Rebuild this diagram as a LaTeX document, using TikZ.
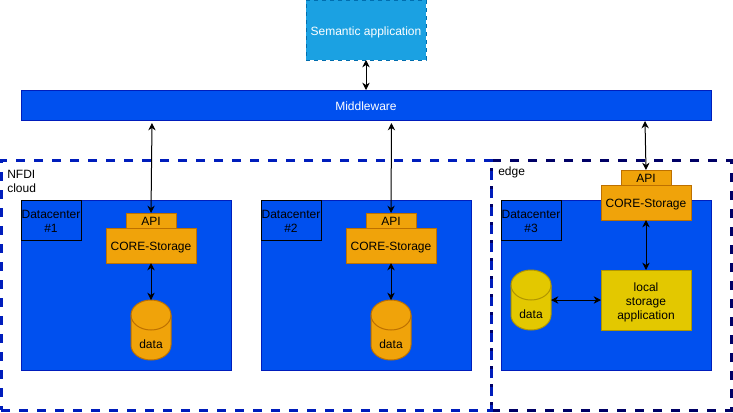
\documentclass[tikz,border=0pt]{standalone}
\usepackage{fontspec}
\setmainfont{Liberation Sans}
\usetikzlibrary{arrows,arrows.meta,shapes,positioning,calc}
\definecolor{dfblue}{HTML}{0050EF}
\definecolor{dfbluedark}{HTML}{001DBC}
\definecolor{dfsky}{HTML}{1BA1E2}
\definecolor{dfskydark}{HTML}{006EAF}
\definecolor{dforange}{HTML}{F0A30A}
\definecolor{dforangedark}{HTML}{BD7000}
\definecolor{dfyellow}{HTML}{E3C800}
\definecolor{dfyellowdark}{HTML}{B09500}
\definecolor{dfnavy}{HTML}{000066}
\tikzstyle{arrow} = [line width=0.75pt,{Stealth[length=5.5pt,width=5.5pt]}-{Stealth[length=5.5pt,width=5.5pt]},color=black]
\tikzstyle{oneline} = [text height=7.5pt, text depth=0pt]
\tikzstyle{twolines} = [text height=18pt, text depth=0pt]
\tikzstyle{threelines} = [text height=28.5pt, text depth=0pt]
\tikzstyle{zone} = [rectangle, draw=dfbluedark, line width=2.25pt, dash pattern=on 6.75pt off 6.75pt, minimum height=187.5pt, inner sep=0pt, outer sep=0pt]
\tikzstyle{datacenter} = [rectangle, draw=dfbluedark, fill=dfblue, line width=0.75pt, minimum width=157.5pt, minimum height=127.5pt, outer sep=0pt]
\tikzstyle{dclabel} = [rectangle, draw=black, line width=0.75pt, minimum width=45pt, minimum height=30pt, inner sep=0pt, outer sep=0pt, align=center, twolines]
\tikzstyle{corebox} = [rectangle, draw=dforangedark, fill=dforange, line width=0.75pt, minimum width=67.5pt, minimum height=26.25pt, inner sep=0pt, outer sep=0pt, oneline]
\tikzstyle{apibox} = [rectangle, draw=dforangedark, fill=dforange, line width=0.75pt, minimum width=37.5pt, minimum height=11.25pt, inner sep=0pt, outer sep=0pt, oneline]
\tikzstyle{database} = [rectangle, minimum width=30pt, minimum height=45pt, inner sep=0pt, outer sep=0pt, oneline, text=black]
\tikzstyle{dbshell} = [line width=0.75pt, draw=dforangedark, fill=dforange]
\newcommand{\dbdrum}[2][dbshell]{
\path[#1] (#2.north west) ++(0,15) arc[start angle=180, end angle=0, x radius=15pt, y radius=11.25pt] -- ++(0,30) arc[start angle=0, end angle=-180, x radius=15pt, y radius=11.25pt] -- cycle;
\path[#1, fill=none] (#2.north west) ++(0,15) arc[start angle=180, end angle=360, x radius=15pt, y radius=11.25pt];
}

\begin{document}
\begin{tikzpicture}[x=0.75pt, y=-0.75pt, font=\fontsize{9}{10.5}\selectfont]
\useasboundingbox (0,0) rectangle (733,412);
% Zones
\node[zone, draw=dfnavy, minimum width=180pt] (edge) at (611,285) {};
\node[zone, minimum width=367.5pt] (nfdi) at (246,285) {};
\node[anchor=north west, inner sep=0pt, align=left] (nfdilabel) at (7,170) {NFDI\\cloud};
\node[anchor=north west, inner sep=0pt] (edgelabel) at (498,167) {edge};

% Top
\node[rectangle, draw=dfskydark, fill=dfsky, dashed, line width=0.75pt, minimum width=90pt, minimum height=45pt, inner sep=0pt, outer sep=0pt, text=white, oneline] (semantic) at (366,30) {Semantic application};
\node[rectangle, draw=dfbluedark, fill=dfblue, line width=0.75pt, minimum width=517.5pt, minimum height=22.5pt, inner sep=0pt, outer sep=0pt, text=white, oneline] (middleware) at (366,105) {Middleware};
\draw[arrow] (semantic.south) -- (middleware.north);

% Datacenter 1
\node[datacenter] (dc1) at (126,285) {};
\node[dclabel] (dc1label) at (51,220) {Datacenter\\\#1};
\node[corebox] (core1) at (151,245.5) {CORE-Storage};
\node[apibox, above=0pt of core1] (api1) {API};
\node[database] (data1) at (151,330) {};
\dbdrum{data1}
\node[oneline] (data1text) at (151,343) {data};
\coordinate (mw1) at (152,123);
\draw[arrow] (mw1) -- (api1.north);
\draw[arrow] (core1.south) -- (data1.north);

% Datacenter 2
\node[datacenter, right=22.5pt of dc1] (dc2) {};
\node[dclabel] (dc2label) at (291,220) {Datacenter\\\#2};
\node[corebox] (core2) at (391,245.5) {CORE-Storage};
\node[apibox, above=0pt of core2] (api2) {API};
\node[database] (data2) at (391,330) {};
\dbdrum{data2}
\node[oneline] (data2text) at (391,343) {data};
\coordinate (mw2) at (391.5,123);
\draw[arrow] (mw2) -- (api2.north);
\draw[arrow] (core2.south) -- (data2.north);

% Datacenter 3
\node[datacenter, right=22.5pt of dc2] (dc3) {};
\node[dclabel] (dc3label) at (531,220) {Datacenter\\\#3};
\node[corebox] (core3) at (646,202.5) {CORE-Storage};
\node[apibox, above=0pt of core3] (api3) {API};
\node[rectangle, draw=dfyellowdark, fill=dfyellow, line width=0.75pt, minimum width=67.5pt, minimum height=45pt, inner sep=0pt, outer sep=0pt, align=center, threelines] (local) at (646,300) {local\\storage\\application};
\node[database] (data3) at (531,300) {};
\dbdrum[dbshell, draw=dfyellowdark, fill=dfyellow]{data3}
\node[oneline] (data3text) at (531,313) {data};
\coordinate (mw3) at (645,121);
\draw[arrow] (mw3) -- (api3.north);
\draw[arrow] (core3.south) -- (local.north);
\draw[arrow] (data3.east) -- (local.west);
\end{tikzpicture}
\end{document}
